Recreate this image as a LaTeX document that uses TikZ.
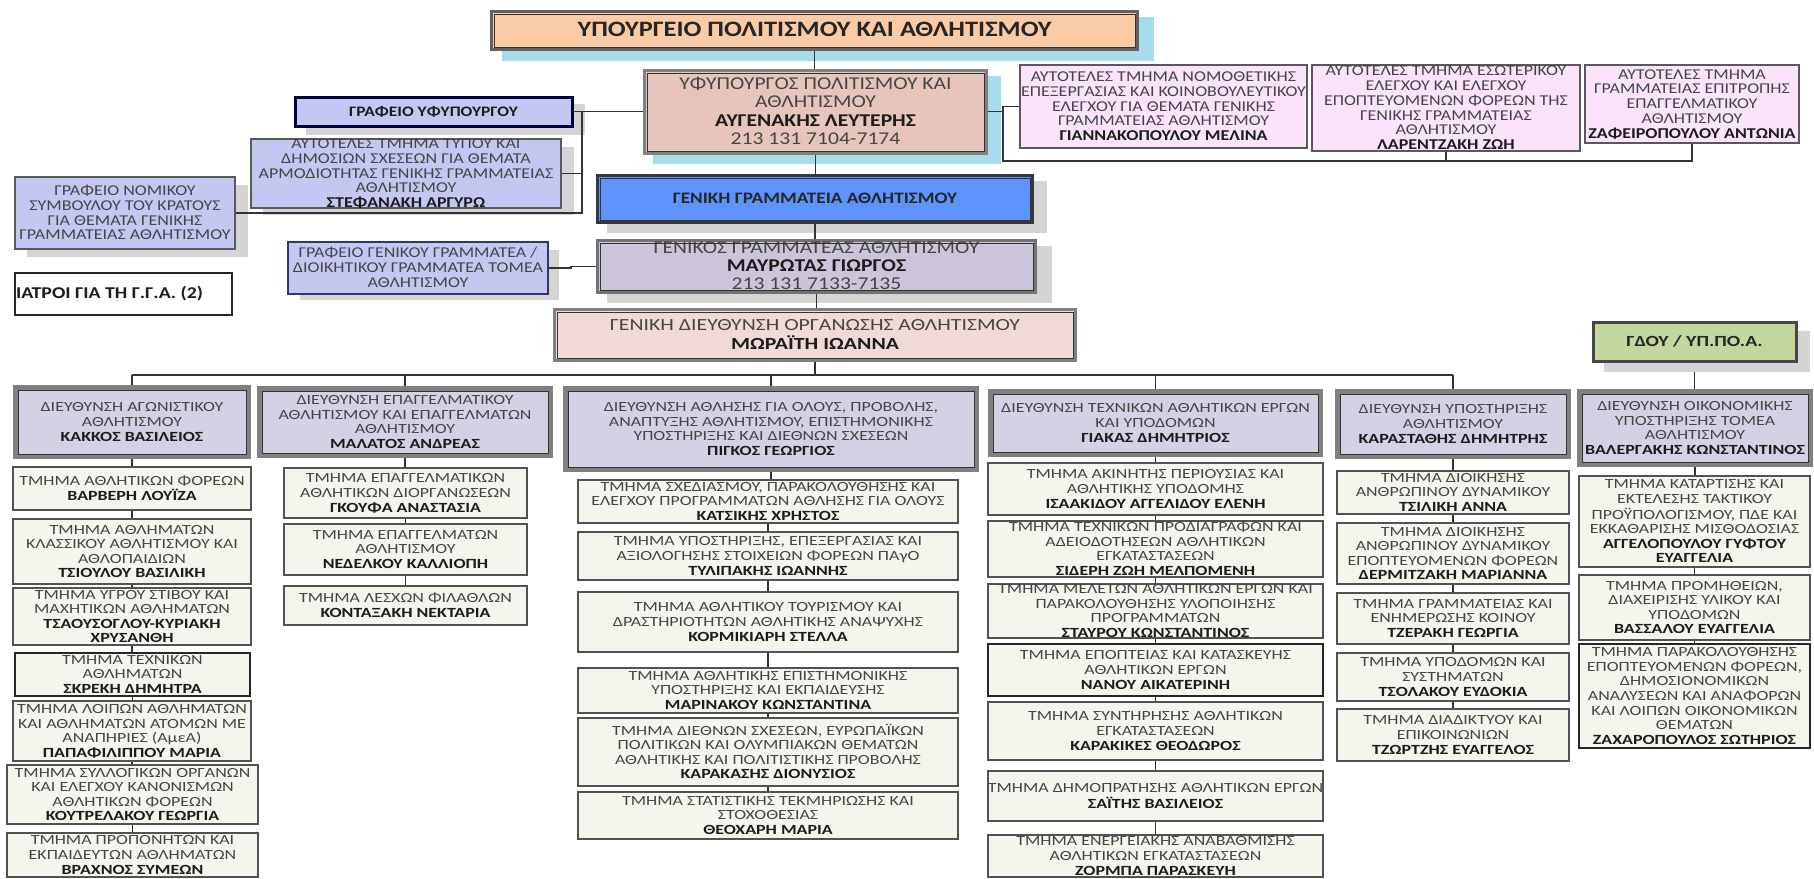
\documentclass[tikz,border=0pt]{standalone}
\usepackage{fontspec}
\setmainfont{Carlito}
\newfontfamily\lowf{Carlito}[FakeStretch=1.28]
\newfontfamily\upf{Carlito}[FakeStretch=1.2]
\pgfdeclarelayer{shad}\pgfdeclarelayer{conn}\pgfsetlayers{shad,conn,main}
\definecolor{txtc}{HTML}{454545}
\definecolor{nmc}{HTML}{1C1C1C}
\definecolor{bshadow}{HTML}{A6DCEC}
\definecolor{gshadow}{HTML}{D4D4D4}
\newcommand\nm[1]{{\bfseries\color{nmc}#1}}
\tikzset{
 x=1pt,y=-1pt,
 bxbase/.style={inner sep=0pt,outer sep=0pt,text=txtc,rectangle},
 lowbox/.style={bxbase,draw=black!68,line width=1.5pt,fill=childc,font=\lowf\fontsize{14}{14.6}\selectfont},
 darkbox/.style={lowbox,draw=black!85},
 hdbox/.style={bxbase,draw=black!50,line width=5pt,fill=hdc,font=\lowf\fontsize{14}{14.6}\selectfont},
 hdin/.style={draw=black!80,line width=1pt},
 smallbox/.style={bxbase,draw=black!65,line width=1.2pt,font=\upf\fontsize{15}{14.7}\selectfont},
 bluebox/.style={smallbox,fill=bluec},
 pinkbox/.style={smallbox,fill=pinkc},
 conn/.style={draw=black!80,line width=1.3pt},
}
\definecolor{childc}{HTML}{F4F6EE}
\definecolor{hdc}{HTML}{D5D0E3}
\definecolor{bluec}{HTML}{C5C7F3}
\definecolor{pinkc}{HTML}{FBE4FB}
\newcommand\sh[5]{\begin{pgfonlayer}{shad}\fill[#5] (#1,#2) rectangle (#3,#4);\end{pgfonlayer}}
% \bx[style]{name}{x0}{y0}{x1}{y1}{lines}
\newcommand\bx[7][lowbox]{%
 \node[#1,minimum width={(#5-#3)*1pt},minimum height={(#6-#4)*1pt}] (#2) at ({(#3+#5)/2},{(#4+#6)/2})
 {\raisebox{\dimexpr-0.25em-6.8pt\relax}{\smash{\begin{tabular}[c]{@{}c@{}}#7\end{tabular}}}};}
% \hd[style]{name}{x0}{y0}{x1}{y1}{lines}: outer edge given, grey band with dark inner line
\newcommand\hd[7][hdbox]{%
 \node[#1,minimum width={(#5-#3-5)*1pt},minimum height={(#6-#4-5)*1pt}] (#2) at ({(#3+#5)/2},{(#4+#6)/2})
 {\raisebox{\dimexpr-0.25em-6.8pt\relax}{\smash{\begin{tabular}[c]{@{}c@{}}#7\end{tabular}}}};
 \draw[hdin] ([shift={(2.5,2.5)}]#2.north west) rectangle ([shift={(-2.5,-2.5)}]#2.south east);}
\newcommand\vc[2]{\draw[conn] (#1.south) -- (#1.south |- #2.north);}
\begin{document}
\begin{tikzpicture}
\useasboundingbox (0,0) rectangle (1814,878);
\sh{0}{0}{1814}{878}{white}
% shadows
\sh{502}{17}{1154}{61}{bshadow}
\sh{653}{76}{1001}{164}{bshadow}
\sh{306}{104}{585}{135}{gshadow}
\sh{263}{147}{574}{215}{gshadow}
\sh{27}{185}{248}{257}{gshadow}
\sh{300}{250}{559}{300}{gshadow}
\sh{607}{181}{1047}{233}{gshadow}
\sh{607}{246}{1052}{303}{gshadow}
\sh{1604}{331}{1810}{372}{gshadow}
% top boxes
\hd[hdbox,draw=black!62,line width=2.5pt,fill={rgb,255:red,251;green,203;blue,165},font=\upf\bfseries\fontsize{22}{24}\selectfont,text=black!85]{top}{489}{9}{1140}{52}{ΥΠΟΥΡΓΕΙΟ ΠΟΛΙΤΙΣΜΟΥ ΚΑΙ ΑΘΛΗΤΙΣΜΟΥ}
\hd[hdbox,draw=black!50,line width=3pt,fill={rgb,255:red,230;green,197;blue,189},font=\upf\fontsize{18}{18.6}\selectfont]{yf}{642}{68}{989}{156}{ΥΦΥΠΟΥΡΓΟΣ ΠΟΛΙΤΙΣΜΟΥ ΚΑΙ\\ΑΘΛΗΤΙΣΜΟΥ\\\nm{ΑΥΓΕΝΑΚΗΣ ΛΕΥΤΕΡΗΣ}\\213 131 7104-7174}
\bx[bluebox,draw=black!75!blue,line width=3pt,font=\upf\fontsize{14.5}{15}\selectfont]{gy}{295}{97}{572}{126}{\nm{ΓΡΑΦΕΙΟ ΥΦΥΠΟΥΡΓΟΥ}}
\bx[bluebox]{typ}{251}{139}{561}{208}{ΑΥΤΟΤΕΛΕΣ ΤΜΗΜΑ ΤΥΠΟΥ ΚΑΙ\\ΔΗΜΟΣΙΩΝ ΣΧΕΣΕΩΝ ΓΙΑ ΘΕΜΑΤΑ\\ΑΡΜΟΔΙΟΤΗΤΑΣ ΓΕΝΙΚΗΣ ΓΡΑΜΜΑΤΕΙΑΣ\\ΑΘΛΗΤΙΣΜΟΥ\\\nm{ΣΤΕΦΑΝΑΚΗ ΑΡΓΥΡΩ}}
\bx[bluebox]{nom}{15}{177}{235}{249}{ΓΡΑΦΕΙΟ ΝΟΜΙΚΟΥ\\ΣΥΜΒΟΥΛΟΥ ΤΟΥ ΚΡΑΤΟΥΣ\\ΓΙΑ ΘΕΜΑΤΑ ΓΕΝΙΚΗΣ\\ΓΡΑΜΜΑΤΕΙΑΣ ΑΘΛΗΤΙΣΜΟΥ}
\bx[smallbox,fill=white,draw=black!85,font=\upf\fontsize{16.5}{17}\selectfont]{iat}{15}{273}{232}{315}{\nm{ΙΑΤΡΟΙ ΓΙΑ ΤΗ Γ.Γ.Α. (2)}\hspace*{28pt}}
\bx[bluebox,line width=2.5pt,draw=black!60!blue!60!gray]{ggr}{288}{242}{548}{294}{ΓΡΑΦΕΙΟ ΓΕΝΙΚΟΥ ΓΡΑΜΜΑΤΕΑ /\\ΔΙΟΙΚΗΤΙΚΟΥ ΓΡΑΜΜΑΤΕΑ ΤΟΜΕΑ\\ΑΘΛΗΤΙΣΜΟΥ}
\hd[hdbox,line width=3pt,draw=black!78,fill={rgb,255:red,92;green,148;blue,251},font=\upf\bfseries\fontsize{16}{18}\selectfont,text=black!85]{gga}{595}{173}{1035}{225}{ΓΕΝΙΚΗ ΓΡΑΜΜΑΤΕΙΑ ΑΘΛΗΤΙΣΜΟΥ}
\hd[hdbox,line width=3pt,draw=black!55,fill={rgb,255:red,204;green,197;blue,218},font=\upf\fontsize{18}{18.3}\selectfont]{gs}{595}{238}{1038}{295}{ΓΕΝΙΚΟΣ ΓΡΑΜΜΑΤΕΑΣ ΑΘΛΗΤΙΣΜΟΥ\\\nm{ΜΑΥΡΩΤΑΣ ΓΙΩΡΓΟΣ}\\213 131 7133-7135}
\hd[hdbox,line width=3.5pt,fill={rgb,255:red,240;green,218;blue,215},font=\lowf\fontsize{17}{18}\selectfont]{gd}{552}{307}{1078}{363}{ΓΕΝΙΚΗ ΔΙΕΥΘΥΝΣΗ ΟΡΓΑΝΩΣΗΣ ΑΘΛΗΤΙΣΜΟΥ\\\nm{ΜΩΡΑΪΤΗ ΙΩΑΝΝΑ}}
% pink
\bx[pinkbox]{pa}{1020}{65}{1307}{148}{ΑΥΤΟΤΕΛΕΣ ΤΜΗΜΑ ΝΟΜΟΘΕΤΙΚΗΣ\\ΕΠΕΞΕΡΓΑΣΙΑΣ ΚΑΙ ΚΟΙΝΟΒΟΥΛΕΥΤΙΚΟΥ\\ΕΛΕΓΧΟΥ ΓΙΑ ΘΕΜΑΤΑ ΓΕΝΙΚΗΣ\\ΓΡΑΜΜΑΤΕΙΑΣ ΑΘΛΗΤΙΣΜΟΥ\\\nm{ΓΙΑΝΝΑΚΟΠΟΥΛΟΥ ΜΕΛΙΝΑ}}
\bx[pinkbox]{pb}{1312}{65}{1580}{151}{ΑΥΤΟΤΕΛΕΣ ΤΜΗΜΑ ΕΣΩΤΕΡΙΚΟΥ\\ΕΛΕΓΧΟΥ ΚΑΙ ΕΛΕΓΧΟΥ\\ΕΠΟΠΤΕΥΟΜΕΝΩΝ ΦΟΡΕΩΝ ΤΗΣ\\ΓΕΝΙΚΗΣ ΓΡΑΜΜΑΤΕΙΑΣ\\ΑΘΛΗΤΙΣΜΟΥ\\\nm{ΛΑΡΕΝΤΖΑΚΗ ΖΩΗ}}
\bx[pinkbox]{pc}{1585}{65}{1799}{143}{ΑΥΤΟΤΕΛΕΣ ΤΜΗΜΑ\\ΓΡΑΜΜΑΤΕΙΑΣ ΕΠΙΤΡΟΠΗΣ\\ΕΠΑΓΓΕΛΜΑΤΙΚΟΥ\\ΑΘΛΗΤΙΣΜΟΥ\\\nm{ΖΑΦΕΙΡΟΠΟΥΛΟΥ ΑΝΤΩΝΙΑ}}
% ΓΔΟΥ
\bx[lowbox,fill={rgb,255:red,195;green,214;blue,155},draw=black!72,line width=3pt,font=\lowf\bfseries\fontsize{15.5}{16}\selectfont,text=black!85]{gdoy}{1593}{322}{1796}{361}{ΓΔΟΥ / ΥΠ.ΠΟ.Α.}
% column 1
\hd{h1}{13}{385}{251}{459}{ΔΙΕΥΘΥΝΣΗ ΑΓΩΝΙΣΤΙΚΟΥ\\ΑΘΛΗΤΙΣΜΟΥ\\\nm{ΚΑΚΚΟΣ ΒΑΣΙΛΕΙΟΣ}}
\bx{a1}{13}{467}{251}{510}{ΤΜΗΜΑ ΑΘΛΗΤΙΚΩΝ ΦΟΡΕΩΝ\\\nm{ΒΑΡΒΕΡΗ ΛΟΥΪΖΑ}}
\bx{a2}{13}{519}{251}{584}{ΤΜΗΜΑ ΑΘΛΗΜΑΤΩΝ\\ΚΛΑΣΣΙΚΟΥ ΑΘΛΗΤΙΣΜΟΥ ΚΑΙ\\ΑΘΛΟΠΑΙΔΙΩΝ\\\nm{ΤΣΙΟΥΛΟΥ ΒΑΣΙΛΙΚΗ}}
\bx{a3}{13}{588}{251}{645}{ΤΜΗΜΑ ΥΓΡΟΥ ΣΤΙΒΟΥ ΚΑΙ\\ΜΑΧΗΤΙΚΩΝ ΑΘΛΗΜΑΤΩΝ\\\nm{ΤΣΑΟΥΣΟΓΛΟΥ-ΚΥΡΙΑΚΗ}\\\nm{ΧΡΥΣΑΝΘΗ}}
\bx[darkbox]{a4}{15}{653}{250}{696}{ΤΜΗΜΑ ΤΕΧΝΙΚΩΝ\\ΑΘΛΗΜΑΤΩΝ\\\nm{ΣΚΡΕΚΗ ΔΗΜΗΤΡΑ}}
\bx{a5}{13}{701}{251}{761}{ΤΜΗΜΑ ΛΟΙΠΩΝ ΑΘΛΗΜΑΤΩΝ\\ΚΑΙ ΑΘΛΗΜΑΤΩΝ ΑΤΟΜΩΝ ΜΕ\\ΑΝΑΠΗΡΙΕΣ (ΑμεΑ)\\\nm{ΠΑΠΑΦΙΛΙΠΠΟΥ ΜΑΡΙΑ}}
\bx{a6}{7}{765}{258}{824}{ΤΜΗΜΑ ΣΥΛΛΟΓΙΚΩΝ ΟΡΓΑΝΩΝ\\ΚΑΙ ΕΛΕΓΧΟΥ ΚΑΝΟΝΙΣΜΩΝ\\ΑΘΛΗΤΙΚΩΝ ΦΟΡΕΩΝ\\\nm{ΚΟΥΤΡΕΛΑΚΟΥ ΓΕΩΡΓΙΑ}}
\bx{a7}{7}{833}{258}{877}{ΤΜΗΜΑ ΠΡΟΠΟΝΗΤΩΝ ΚΑΙ\\ΕΚΠΑΙΔΕΥΤΩΝ ΑΘΛΗΜΑΤΩΝ\\\nm{ΒΡΑΧΝΟΣ ΣΥΜΕΩΝ}}
% column 2
\hd{h2}{257}{386}{553}{458}{ΔΙΕΥΘΥΝΣΗ ΕΠΑΓΓΕΛΜΑΤΙΚΟΥ\\ΑΘΛΗΤΙΣΜΟΥ ΚΑΙ ΕΠΑΓΓΕΛΜΑΤΩΝ\\ΑΘΛΗΤΙΣΜΟΥ\\\nm{ΜΑΛΑΤΟΣ ΑΝΔΡΕΑΣ}}
\bx{b1}{284}{468}{527}{518}{ΤΜΗΜΑ ΕΠΑΓΓΕΛΜΑΤΙΚΩΝ\\ΑΘΛΗΤΙΚΩΝ ΔΙΟΡΓΑΝΩΣΕΩΝ\\\nm{ΓΚΟΥΦΑ ΑΝΑΣΤΑΣΙΑ}}
\bx{b2}{284}{524}{527}{575}{ΤΜΗΜΑ ΕΠΑΓΓΕΛΜΑΤΩΝ\\ΑΘΛΗΤΙΣΜΟΥ\\\nm{ΝΕΔΕΛΚΟΥ ΚΑΛΛΙΟΠΗ}}
\bx{b3}{284}{586}{527}{625}{ΤΜΗΜΑ ΛΕΣΧΩΝ ΦΙΛΑΘΛΩΝ\\\nm{ΚΟΝΤΑΞΑΚΗ ΝΕΚΤΑΡΙΑ}}
% column 3
\hd{h3}{563}{386}{979}{472}{ΔΙΕΥΘΥΝΣΗ ΑΘΛΗΣΗΣ ΓΙΑ ΟΛΟΥΣ, ΠΡΟΒΟΛΗΣ,\\ΑΝΑΠΤΥΞΗΣ ΑΘΛΗΤΙΣΜΟΥ, ΕΠΙΣΤΗΜΟΝΙΚΗΣ\\ΥΠΟΣΤΗΡΙΞΗΣ ΚΑΙ ΔΙΕΘΝΩΝ ΣΧΕΣΕΩΝ\\\nm{ΠΙΓΚΟΣ ΓΕΩΡΓΙΟΣ}}
\bx{c1}{578}{480}{958}{523}{ΤΜΗΜΑ ΣΧΕΔΙΑΣΜΟΥ, ΠΑΡΑΚΟΛΟΥΘΗΣΗΣ ΚΑΙ\\ΕΛΕΓΧΟΥ ΠΡΟΓΡΑΜΜΑΤΩΝ ΑΘΛΗΣΗΣ ΓΙΑ ΟΛΟΥΣ\\\nm{ΚΑΤΣΙΚΗΣ ΧΡΗΣΤΟΣ}}
\bx{c2}{578}{532}{958}{580}{ΤΜΗΜΑ ΥΠΟΣΤΗΡΙΞΗΣ, ΕΠΕΞΕΡΓΑΣΙΑΣ ΚΑΙ\\ΑΞΙΟΛΟΓΗΣΗΣ ΣΤΟΙΧΕΙΩΝ ΦΟΡΕΩΝ ΠΑγΟ\\\nm{ΤΥΛΙΠΑΚΗΣ ΙΩΑΝΝΗΣ}}
\bx{c3}{578}{592}{958}{652}{ΤΜΗΜΑ ΑΘΛΗΤΙΚΟΥ ΤΟΥΡΙΣΜΟΥ ΚΑΙ\\ΔΡΑΣΤΗΡΙΟΤΗΤΩΝ ΑΘΛΗΤΙΚΗΣ ΑΝΑΨΥΧΗΣ\\\nm{ΚΟΡΜΙΚΙΑΡΗ ΣΤΕΛΛΑ}}
\bx{c4}{578}{668}{958}{713}{ΤΜΗΜΑ ΑΘΛΗΤΙΚΗΣ ΕΠΙΣΤΗΜΟΝΙΚΗΣ\\ΥΠΟΣΤΗΡΙΞΗΣ ΚΑΙ ΕΚΠΑΙΔΕΥΣΗΣ\\\nm{ΜΑΡΙΝΑΚΟΥ ΚΩΝΣΤΑΝΤΙΝΑ}}
\bx{c5}{578}{718}{958}{786}{ΤΜΗΜΑ ΔΙΕΘΝΩΝ ΣΧΕΣΕΩΝ, ΕΥΡΩΠΑΪΚΩΝ\\ΠΟΛΙΤΙΚΩΝ ΚΑΙ ΟΛΥΜΠΙΑΚΩΝ ΘΕΜΑΤΩΝ\\ΑΘΛΗΤΙΚΗΣ ΚΑΙ ΠΟΛΙΤΙΣΤΙΚΗΣ ΠΡΟΒΟΛΗΣ\\\nm{ΚΑΡΑΚΑΣΗΣ ΔΙΟΝΥΣΙΟΣ}}
\bx{c6}{578}{792}{958}{839}{ΤΜΗΜΑ ΣΤΑΤΙΣΤΙΚΗΣ ΤΕΚΜΗΡΙΩΣΗΣ ΚΑΙ\\ΣΤΟΧΟΘΕΣΙΑΣ\\\nm{ΘΕΟΧΑΡΗ ΜΑΡΙΑ}}
% column 4
\hd{h4}{988}{389}{1323}{457}{ΔΙΕΥΘΥΝΣΗ ΤΕΧΝΙΚΩΝ ΑΘΛΗΤΙΚΩΝ ΕΡΓΩΝ\\ΚΑΙ ΥΠΟΔΟΜΩΝ\\\nm{ΓΙΑΚΑΣ ΔΗΜΗΤΡΙΟΣ}}
\bx{d1}{988}{463}{1323}{515}{ΤΜΗΜΑ ΑΚΙΝΗΤΗΣ ΠΕΡΙΟΥΣΙΑΣ ΚΑΙ\\ΑΘΛΗΤΙΚΗΣ ΥΠΟΔΟΜΗΣ\\\nm{ΙΣΑΑΚΙΔΟΥ ΑΓΓΕΛΙΔΟΥ ΕΛΕΝΗ}}
\bx{d2}{988}{521}{1323}{577}{ΤΜΗΜΑ ΤΕΧΝΙΚΩΝ ΠΡΟΔΙΑΓΡΑΦΩΝ ΚΑΙ\\ΑΔΕΙΟΔΟΤΗΣΕΩΝ ΑΘΛΗΤΙΚΩΝ\\ΕΓΚΑΤΑΣΤΑΣΕΩΝ\\\nm{ΣΙΔΕΡΗ ΖΩΗ ΜΕΛΠΟΜΕΝΗ}}
\bx{d3}{988}{584}{1323}{638}{ΤΜΗΜΑ ΜΕΛΕΤΩΝ ΑΘΛΗΤΙΚΩΝ ΕΡΓΩΝ ΚΑΙ\\ΠΑΡΑΚΟΛΟΥΘΗΣΗΣ ΥΛΟΠΟΙΗΣΗΣ\\ΠΡΟΓΡΑΜΜΑΤΩΝ\\\nm{ΣΤΑΥΡΟΥ ΚΩΝΣΤΑΝΤΙΝΟΣ}}
\bx[darkbox]{d4}{988}{644}{1323}{696}{ΤΜΗΜΑ ΕΠΟΠΤΕΙΑΣ ΚΑΙ ΚΑΤΑΣΚΕΥΗΣ\\ΑΘΛΗΤΙΚΩΝ ΕΡΓΩΝ\\\nm{ΝΑΝΟΥ ΑΙΚΑΤΕΡΙΝΗ}}
\bx{d5}{988}{702}{1323}{760}{ΤΜΗΜΑ ΣΥΝΤΗΡΗΣΗΣ ΑΘΛΗΤΙΚΩΝ\\ΕΓΚΑΤΑΣΤΑΣΕΩΝ\\\nm{ΚΑΡΑΚΙΚΕΣ ΘΕΟΔΩΡΟΣ}}
\bx{d6}{988}{771}{1323}{821}{ΤΜΗΜΑ ΔΗΜΟΠΡΑΤΗΣΗΣ ΑΘΛΗΤΙΚΩΝ ΕΡΓΩΝ\\\nm{ΣΑΪΤΗΣ ΒΑΣΙΛΕΙΟΣ}}
\bx{d7}{988}{835}{1323}{877}{ΤΜΗΜΑ ΕΝΕΡΓΕΙΑΚΗΣ ΑΝΑΒΑΘΜΙΣΗΣ\\ΑΘΛΗΤΙΚΩΝ ΕΓΚΑΤΑΣΤΑΣΕΩΝ\\\nm{ΖΟΡΜΠΑ ΠΑΡΑΣΚΕΥΗ}}
% column 5
\hd{h5}{1335}{389}{1571}{459}{ΔΙΕΥΘΥΝΣΗ ΥΠΟΣΤΗΡΙΞΗΣ\\ΑΘΛΗΤΙΣΜΟΥ\\\nm{ΚΑΡΑΣΤΑΘΗΣ ΔΗΜΗΤΡΗΣ}}
\bx{e1}{1337}{471}{1569}{514}{ΤΜΗΜΑ ΔΙΟΙΚΗΣΗΣ\\ΑΝΘΡΩΠΙΝΟΥ ΔΥΝΑΜΙΚΟΥ\\\nm{ΤΣΙΛΙΚΗ ΑΝΝΑ}}
\bx{e2}{1337}{523}{1569}{584}{ΤΜΗΜΑ ΔΙΟΙΚΗΣΗΣ\\ΑΝΘΡΩΠΙΝΟΥ ΔΥΝΑΜΙΚΟΥ\\ΕΠΟΠΤΕΥΟΜΕΝΩΝ ΦΟΡΕΩΝ\\\nm{ΔΕΡΜΙΤΖΑΚΗ ΜΑΡΙΑΝΝΑ}}
\bx{e3}{1337}{593}{1569}{644}{ΤΜΗΜΑ ΓΡΑΜΜΑΤΕΙΑΣ ΚΑΙ\\ΕΝΗΜΕΡΩΣΗΣ ΚΟΙΝΟΥ\\\nm{ΤΖΕΡΑΚΗ ΓΕΩΡΓΙΑ}}
\bx{e4}{1337}{653}{1569}{701}{ΤΜΗΜΑ ΥΠΟΔΟΜΩΝ ΚΑΙ\\ΣΥΣΤΗΜΑΤΩΝ\\\nm{ΤΣΟΛΑΚΟΥ ΕΥΔΟΚΙΑ}}
\bx{e5}{1337}{709}{1569}{761}{ΤΜΗΜΑ ΔΙΑΔΙΚΤΥΟΥ ΚΑΙ\\ΕΠΙΚΟΙΝΩΝΙΩΝ\\\nm{ΤΖΩΡΤΖΗΣ ΕΥΑΓΓΕΛΟΣ}}
% column 6
\hd{h6}{1577}{389}{1813}{467}{ΔΙΕΥΘΥΝΣΗ ΟΙΚΟΝΟΜΙΚΗΣ\\ΥΠΟΣΤΗΡΙΞΗΣ ΤΟΜΕΑ\\ΑΘΛΗΤΙΣΜΟΥ\\\nm{ΒΑΛΕΡΓΑΚΗΣ ΚΩΝΣΤΑΝΤΙΝΟΣ}}
\bx{f1}{1579}{476}{1810}{567}{ΤΜΗΜΑ ΚΑΤΑΡΤΙΣΗΣ ΚΑΙ\\ΕΚΤΕΛΕΣΗΣ ΤΑΚΤΙΚΟΥ\\ΠΡΟΫΠΟΛΟΓΙΣΜΟΥ, ΠΔΕ ΚΑΙ\\ΕΚΚΑΘΑΡΙΣΗΣ ΜΙΣΘΟΔΟΣΙΑΣ\\\nm{ΑΓΓΕΛΟΠΟΥΛΟΥ ΓΥΦΤΟΥ}\\\nm{ΕΥΑΓΓΕΛΙΑ}}
\bx{f2}{1579}{575}{1810}{640}{ΤΜΗΜΑ ΠΡΟΜΗΘΕΙΩΝ,\\ΔΙΑΧΕΙΡΙΣΗΣ ΥΛΙΚΟΥ ΚΑΙ\\ΥΠΟΔΟΜΩΝ\\\nm{ΒΑΣΣΑΛΟΥ ΕΥΑΓΓΕΛΙΑ}}
\bx[darkbox]{f3}{1579}{644}{1810}{748}{ΤΜΗΜΑ ΠΑΡΑΚΟΛΟΥΘΗΣΗΣ\\ΕΠΟΠΤΕΥΟΜΕΝΩΝ ΦΟΡΕΩΝ,\\ΔΗΜΟΣΙΟΝΟΜΙΚΩΝ\\ΑΝΑΛΥΣΕΩΝ ΚΑΙ ΑΝΑΦΟΡΩΝ\\ΚΑΙ ΛΟΙΠΩΝ ΟΙΚΟΝΟΜΙΚΩΝ\\ΘΕΜΑΤΩΝ\\\nm{ΖΑΧΑΡΟΠΟΥΛΟΣ ΣΩΤΗΡΙΟΣ}}
% free ends of connectors
\coordinate (trunk) at (582,111.5);
\coordinate (rjoin) at (1003,111.5);
\coordinate (rbot) at (1003,161);
\coordinate (bus) at (815,375);
\coordinate (gdshadow) at (1694.5,372);
\coordinate (gstep) at (571,268);
\begin{pgfonlayer}{conn}
\vc{top}{yf}\vc{yf}{gga}\vc{gga}{gs}\vc{gs}{gd}
\draw[conn] (yf.west |- gy.east) -- (gy.east);
\draw[conn] (trunk) |- (nom.east);
\draw[conn] (typ.east) -- (trunk |- typ.east);
\draw[conn] (yf.east |- rjoin) -- (rjoin) |- (pa.west);
\draw[conn] (rjoin) -- (rbot) -| (pc.south);
\draw[conn] (pb.south) -- (pb.south |- rbot);
\draw[conn] (ggr.east) -- (gstep) |- (gs.west);
\draw[conn] (gd.south) -- (gd.south |- bus);
\draw[conn] (h1.north |- bus) -- (h5.north |- bus);
\foreach \n in {h1,h2,h3,h4,h5} {\draw[conn] (\n.north |- bus) -- (\n.north);}
\draw[conn] (gdshadow) -- (gdshadow |- h6.north);
\vc{h1}{a1}\vc{a1}{a2}\vc{a2}{a3}\vc{a3}{a4}\vc{a4}{a5}\vc{a5}{a6}\vc{a6}{a7}
\vc{h2}{b1}\vc{b1}{b2}\vc{b2}{b3}
\vc{h3}{c1}\vc{c1}{c2}\vc{c2}{c3}\vc{c3}{c4}\vc{c4}{c5}\vc{c5}{c6}
\vc{h4}{d1}\vc{d1}{d2}\vc{d2}{d3}\vc{d3}{d4}\vc{d4}{d5}\vc{d5}{d6}\vc{d6}{d7}
\vc{h5}{e1}\vc{e1}{e2}\vc{e2}{e3}\vc{e3}{e4}\vc{e4}{e5}
\vc{h6}{f1}\vc{f1}{f2}\vc{f2}{f3}
\end{pgfonlayer}
\end{tikzpicture}
\end{document}
